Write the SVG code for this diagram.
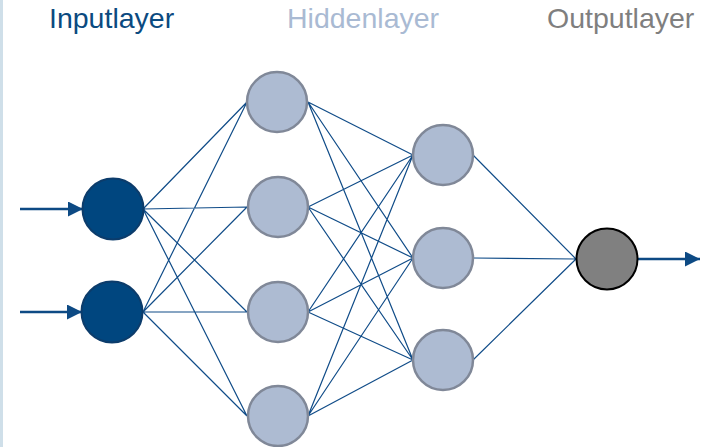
<svg xmlns="http://www.w3.org/2000/svg" width="707" height="447" viewBox="0 0 707 447">
<defs>
<style>
.lbl{font-family:"Liberation Sans",Arial,sans-serif;font-size:28.5px}
.in{fill:#00467f;stroke:#0c3c6b;stroke-width:2}
.hid{fill:#adbbd2;stroke:#808898;stroke-width:2.5}
.out{fill:#808080;stroke:#000;stroke-width:2}
.edge{stroke:#104c88;stroke-width:1.2;fill:none}
.arr{stroke:#0d4a84;stroke-width:2.5;fill:none}
</style>
<marker id="ah" viewBox="0 0 10 10" refX="10" refY="5" markerWidth="6" markerHeight="6" markerUnits="strokeWidth" orient="auto"><path d="M0,0 L10,5 L0,10 z" fill="#0d4a84"/></marker>
</defs>
<rect width="707" height="447" fill="#fff"/>
<rect x="0" y="0" width="3" height="447" fill="#cfdfe9"/>
<text class="lbl" x="49" y="28" fill="#0b4a80">Inputlayer</text>
<text class="lbl" x="287" y="28" fill="#a9bad3">Hiddenlayer</text>
<text class="lbl" x="547" y="28" fill="#7f7f7f">Outputlayer</text>
<g id="connectors">
<path class="edge" d="M143,209L247,102M143,209L247,207M143,209L247,312M143,209L247,416M143,312L247,102M143,312L247,207M143,312L247,312M143,312L247,416"/>
<path class="edge" d="M308,102L413,155M308,102L413,258M308,102L413,360M308,207L413,155M308,207L413,258M308,207L413,360M308,312L413,155M308,312L413,258M308,312L413,360M308,416L413,155M308,416L413,258M308,416L413,360"/>
<path class="edge" d="M473,155L576,259M473,258L576,259M473,360L576,259"/>
<path class="arr" d="M20,209H83" marker-end="url(#ah)"/>
<path class="arr" d="M20,312H82" marker-end="url(#ah)"/>
<path class="arr" d="M638,259H700" marker-end="url(#ah)"/>
</g>
<g id="in1"><circle class="in" cx="113" cy="209" r="30.5"/></g>
<g id="in2"><circle class="in" cx="112" cy="312" r="30.5"/></g>
<g id="h1"><circle class="hid" cx="277" cy="102" r="30"/></g>
<g id="h2"><circle class="hid" cx="278" cy="207" r="30"/></g>
<g id="h3"><circle class="hid" cx="278" cy="312" r="30"/></g>
<g id="h4"><circle class="hid" cx="278" cy="416" r="30"/></g>
<g id="m1"><circle class="hid" cx="443" cy="155" r="30"/></g>
<g id="m2"><circle class="hid" cx="443" cy="258" r="30"/></g>
<g id="m3"><circle class="hid" cx="443" cy="360" r="30"/></g>
<g id="o1"><circle class="out" cx="607" cy="259" r="30.5"/></g>
</svg>
